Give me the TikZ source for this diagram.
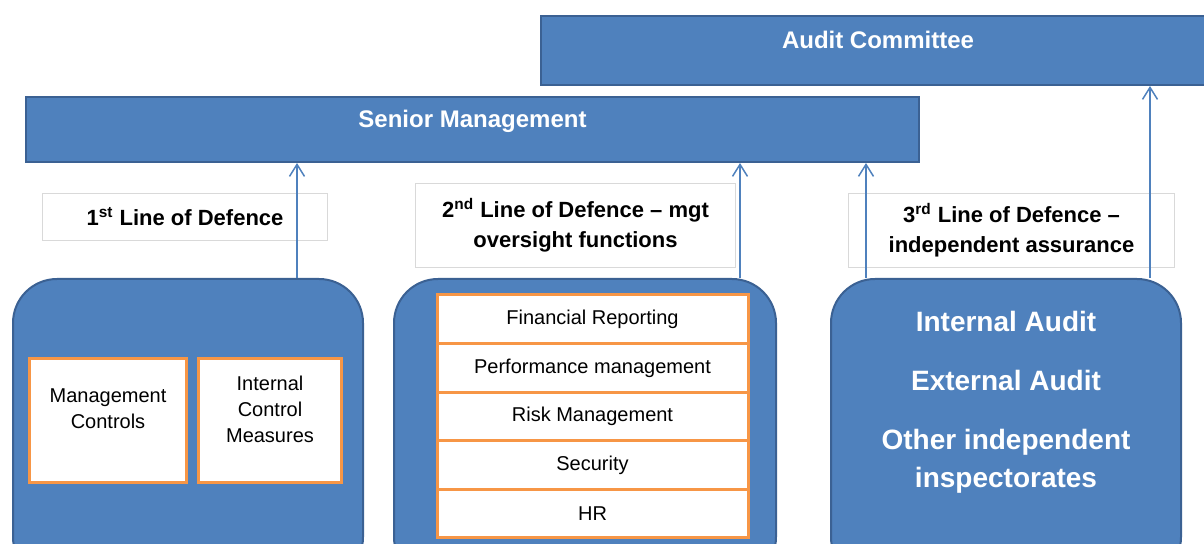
\documentclass[tikz,border=0pt]{standalone}
\usepackage{fontspec}
\setmainfont{Liberation Sans}
\usetikzlibrary{positioning}
\usetikzlibrary{arrows.meta}
\definecolor{boxblue}{HTML}{4F81BD}
\definecolor{boxedge}{HTML}{3B6193}
\definecolor{boxorange}{HTML}{F79646}
\definecolor{tagedge}{HTML}{D9D9D9}

\begin{document}
\begin{tikzpicture}[x=0.5pt,y=-0.5pt]
					\tikzstyle{bar}=[rectangle,draw=boxedge,line width=1pt,fill=boxblue,anchor=north west,inner sep=0pt]
					\tikzstyle{bartext}=[text=white,font=\fontsize{12}{14}\selectfont\bfseries]
					\tikzstyle{tag}=[rectangle,draw=tagedge,line width=0.5pt,fill=white,anchor=north west,align=center,font=\fontsize{11}{15}\selectfont\bfseries]
					\tikzstyle{group}=[rectangle,rounded corners=22pt,draw=boxedge,line width=1pt,fill=boxblue,anchor=north west]
					\tikzstyle{item}=[rectangle,draw=boxorange,line width=1.5pt,fill=white,anchor=north west]
					\tikzstyle{itemtext}=[align=center,font=\fontsize{10}{13}\selectfont]
					\tikzstyle{row}=[item,outer sep=0pt,minimum width=155.5pt,minimum height=24.3pt,font=\fontsize{10}{12}\selectfont]
					\tikzstyle{link}=[draw=boxblue,line width=0.75pt,-{Straight Barb[length=6pt,width=7.5pt]}]

					\clip (0,0) rectangle (1204,544);

					% bars
					\node[bar,minimum width=337pt,minimum height=34.5pt,label={[bartext,yshift=5.25pt]center:Audit Committee}] (audit) at (540,15) {};
					\node[bar,minimum width=446.5pt,minimum height=32.5pt,label={[bartext,yshift=4.25pt]center:Senior Management}] (senior) at (25,96) {};

					% lines of defence
					\node[tag,minimum width=142.5pt,minimum height=23.5pt] (first) at (42,193) {1\textsuperscript{st} Line of Defence};
					\node[tag,minimum width=160pt,minimum height=42pt] (second) at (415,183) {2\textsuperscript{nd} Line of Defence -- mgt\\oversight functions};
					\node[tag,minimum width=163pt,minimum height=37pt] (third) at (848,193) {3\textsuperscript{rd} Line of Defence --\\independent assurance};

					% groups
					\node[group,minimum width=175pt,minimum height=151pt] (box1) at (12,278) {};
					\node[group,minimum width=191pt,minimum height=151pt] (box2) at (393,278) {};
					\node[group,minimum width=175pt,minimum height=151pt,label={[text=white,align=center,font=\fontsize{14}{19}\selectfont\bfseries,yshift=14pt]center:Internal Audit\\[10.5pt]External Audit\\[10.5pt]Other independent\\inspectorates}] (box3) at (830,278) {};

					\node[item,minimum width=78.5pt,minimum height=62pt,label={[itemtext,yshift=5.75pt]center:Management\\Controls}] (mgmt) at (28,357) {};
					\node[item,minimum width=71.5pt,minimum height=62pt,right=4.5pt of mgmt,label={[itemtext,yshift=5.75pt]center:Internal\\Control\\Measures}] (icm) {};

					\foreach \name/\txt [count=\i] in {fin/Financial Reporting,perf/Performance management,risk/Risk Management,sec/Security,hr/HR}
						\node[row] (\name) at (437,{295+48.6*(\i-1)}) {\txt};

					% reporting lines
					\coordinate (up1) at (297,278);
					\coordinate (up2) at (740,278);
					\coordinate (up3) at (866,278);
					\coordinate (up4) at (1150,278);
					\draw[link] (up1) -- (up1 |- senior.south);
					\draw[link] (up2) -- (up2 |- senior.south);
					\draw[link] (up3) -- (up3 |- senior.south);
					\draw[link] (up4) -- (up4 |- audit.south);
\end{tikzpicture}
\end{document}
